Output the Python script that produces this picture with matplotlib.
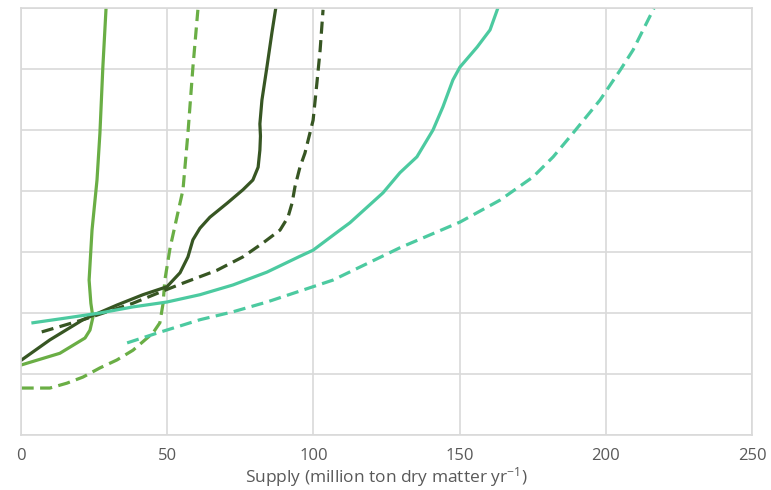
import numpy as np
import matplotlib.pyplot as plt

# supply (x) vs. level (y, unlabelled axis 0-7)
light_solid_x = [0.2, 13.3, 21.9, 23.6, 24.6, 23.9, 23.3, 24.3, 26.0, 27.0, 28.0, 29.1]
light_solid_y = [1.15, 1.34, 1.59, 1.72, 1.93, 2.16, 2.54, 3.36, 4.18, 4.95, 6.03, 7.0]

light_dash_x = [0.2, 9.9, 15.7, 21.2, 27.0, 32.8, 38.3, 45.1, 47.5, 48.6, 49.2, 51.0, 55.4, 57.1, 58.8, 60.5]
light_dash_y = [0.77, 0.77, 0.85, 0.95, 1.10, 1.23, 1.39, 1.67, 1.84, 2.16, 2.54, 3.07, 4.02, 4.95, 6.03, 6.97]

dark_solid_x = [0.2, 9.9, 21.2, 32.8, 41.7, 49.9, 54.4, 57.1, 58.8, 61.2, 64.6, 70.5, 75.9, 79.3,
                81.1, 81.7, 81.9, 81.7, 82.4, 84.1, 85.8, 87.2]
dark_solid_y = [1.23, 1.56, 1.89, 2.13, 2.30, 2.43, 2.66, 2.92, 3.20, 3.39, 3.57, 3.80, 4.02, 4.18,
                4.39, 4.67, 4.90, 5.10, 5.49, 6.03, 6.59, 7.02]

dark_dash_x = [7.1, 21.2, 38.3, 47.5, 55.4, 67.0, 75.9, 82.8, 88.6, 91.3, 92.7, 93.7, 95.4, 97.1,
               99.9, 101.2, 102.3, 103.3]
dark_dash_y = [1.69, 1.89, 2.16, 2.34, 2.49, 2.70, 2.92, 3.15, 3.36, 3.57, 3.80, 4.07, 4.39, 4.62,
               5.16, 5.77, 6.31, 6.97]

teal_solid_x = [4.1, 15.7, 27.0, 38.3, 49.9, 61.2, 72.5, 84.1, 95.4, 99.9, 109.1, 112.5, 123.8,
                129.6, 135.4, 140.9, 144.3, 147.7, 150.1, 156.0, 160.4, 163.1]
teal_solid_y = [1.84, 1.92, 2.00, 2.10, 2.18, 2.30, 2.46, 2.67, 2.93, 3.03, 3.36, 3.48, 3.97,
                4.30, 4.56, 5.00, 5.38, 5.82, 6.03, 6.36, 6.64, 7.0]

teal_dash_x = [36.3, 46.5, 61.2, 72.5, 84.1, 95.4, 106.7, 129.6, 150.1, 163.8, 175.1, 182.0,
               188.8, 198.0, 204.9, 209.3, 216.5]
teal_dash_y = [1.51, 1.67, 1.89, 2.02, 2.18, 2.36, 2.54, 3.07, 3.49, 3.85, 4.23, 4.56,
               4.95, 5.49, 5.98, 6.31, 7.0]

x_ticks = [0, 50, 100, 150, 200, 250]

light = '#6aae45'
dark = '#375623'
teal = '#4ccaa0'

plt.rcParams['font.family'] = ['Open Sans', 'DejaVu Sans']
plt.rcParams['mathtext.fontset'] = 'custom'
plt.rcParams['mathtext.rm'] = 'Open Sans'
plt.rcParams['mathtext.default'] = 'rm'

fig = plt.figure(figsize=(7.71, 4.9), dpi=100)
ax = fig.add_axes([0.0272, 0.1122, 0.9482, 0.8715])

lw = 2.3
ds = (3.8, 2.0)
style = dict(lw=lw, solid_joinstyle='round', dash_joinstyle='round')
ax.plot(light_solid_x, light_solid_y, color=light, **style)
ax.plot(light_dash_x, light_dash_y, color=light, dashes=ds, **style)
ax.plot(dark_solid_x, dark_solid_y, color=dark, **style)
ax.plot(dark_dash_x, dark_dash_y, color=dark, dashes=ds, **style)
ax.plot(teal_solid_x, teal_solid_y, color=teal, **style)
ax.plot(teal_dash_x, teal_dash_y, color=teal, dashes=ds, **style)

ax.set_xlim(0, 250)
ax.set_ylim(0, 7)
ax.set_xticks(x_ticks)
ax.set_yticks(range(0, 8))
ax.set_yticklabels([])
ax.grid(True, color='#d9d9d9', lw=1.2)
ax.set_axisbelow(True)
for s in ax.spines.values():
    s.set_color('#d9d9d9')
    s.set_linewidth(1.2)
ax.tick_params(length=0, labelsize=12, colors='#595959', pad=9)
ax.set_xlabel('Supply (million ton dry matter yr$^{-1}$)', fontsize=12.5, color='#595959', labelpad=1)

fig.savefig('out.png', dpi=100)
